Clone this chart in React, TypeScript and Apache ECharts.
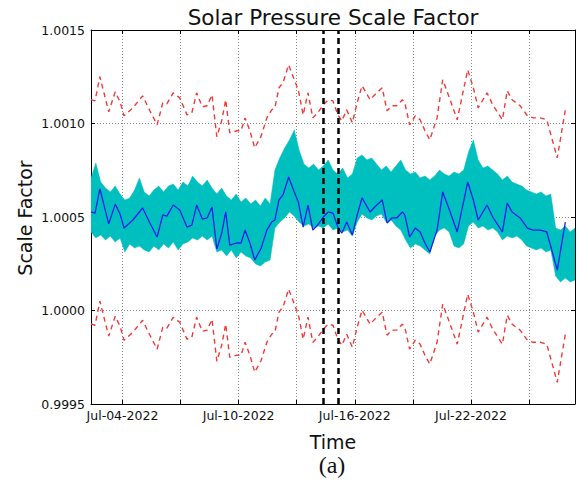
import React, { useEffect, useRef } from "react";
import * as echarts from "echarts";

// ---------- data ----------
const blueTimes = [
  "07-02 09:00","07-02 14:00","07-02 20:00","07-03 07:00","07-03 15:00","07-03 21:00","07-04 02:00","07-04 13:00",
  "07-05 01:00","07-05 10:00","07-05 19:00","07-06 02:00","07-06 07:00","07-06 15:00","07-06 23:00","07-07 08:00",
  "07-07 14:00","07-07 20:00","07-08 03:00","07-08 09:00","07-08 15:00","07-08 21:00","07-09 03:00","07-09 08:00",
  "07-09 13:00","07-09 22:00","07-10 03:00","07-10 08:00","07-10 14:00","07-10 20:00","07-11 04:00","07-11 11:00",
  "07-11 17:00","07-11 21:00","07-12 02:00","07-12 07:00","07-12 14:00","07-12 21:00","07-13 02:00","07-13 08:00",
  "07-13 14:00","07-13 20:00","07-14 02:00","07-14 09:00","07-14 15:00","07-14 21:00","07-15 03:00","07-15 08:00",
  "07-15 14:00","07-15 21:00","07-16 03:00","07-16 09:00","07-16 19:00","07-17 02:00","07-17 10:00","07-17 16:00",
  "07-17 22:00","07-18 04:00","07-18 11:00","07-18 14:00","07-18 20:00","07-19 03:00","07-19 09:00","07-19 15:00",
  "07-19 21:00","07-20 06:00","07-20 13:00","07-20 20:00","07-21 07:00","07-21 20:00","07-22 03:00","07-22 09:00",
  "07-22 20:00","07-23 03:00","07-23 15:00","07-23 21:00","07-24 03:00","07-24 13:00","07-24 22:00","07-25 05:00",
  "07-25 14:00","07-25 22:00","07-26 11:00","07-26 21:00",
];
const blueValues = [
  1.000528,1.000521,1.000650,1.000463,1.000569,1.000516,1.000441,1.000484,
  1.000548,1.000468,1.000393,1.000511,1.000505,1.000564,1.000537,1.000446,
  1.000457,1.000564,1.000489,1.000495,1.000553,1.000329,1.000414,1.000527,
  1.000350,1.000361,1.000361,1.000430,1.000361,1.000270,1.000334,1.000430,
  1.000473,1.000484,1.000591,1.000618,1.000714,1.000634,1.000580,1.000446,
  1.000564,1.000430,1.000457,1.000500,1.000527,1.000521,1.000446,1.000414,
  1.000473,1.000404,1.000511,1.000602,1.000527,1.000559,1.000591,1.000468,
  1.000495,1.000495,1.000527,1.000511,1.000393,1.000441,1.000420,1.000361,
  1.000313,1.000430,1.000634,1.000553,1.000420,1.000687,1.000591,1.000484,
  1.000564,1.000500,1.000420,1.000575,1.000527,1.000495,1.000441,1.000430,
  1.000430,1.000420,1.000216,1.000473,
];
const upperValues = [
  1.001128,1.001121,1.001250,1.001063,1.001169,1.001116,1.001041,1.001084,
  1.001148,1.001068,1.000993,1.001111,1.001105,1.001164,1.001137,1.001046,
  1.001057,1.001164,1.001089,1.001095,1.001153,1.000929,1.001014,1.001127,
  1.000950,1.000961,1.000961,1.001030,1.000961,1.000870,1.000934,1.001030,
  1.001073,1.001084,1.001191,1.001218,1.001314,1.001234,1.001180,1.001046,
  1.001164,1.001030,1.001057,1.001100,1.001127,1.001121,1.001046,1.001014,
  1.001073,1.001004,1.001111,1.001202,1.001127,1.001159,1.001191,1.001068,
  1.001095,1.001095,1.001127,1.001111,1.000993,1.001041,1.001020,1.000961,
  1.000913,1.001030,1.001234,1.001153,1.001020,1.001287,1.001191,1.001084,
  1.001164,1.001100,1.001020,1.001175,1.001127,1.001095,1.001041,1.001030,
  1.001030,1.001020,1.000816,1.001073,
];
const lowerValues = [
  0.999928,0.999921,1.000050,0.999863,0.999969,0.999916,0.999841,0.999884,
  0.999948,0.999868,0.999793,0.999911,0.999905,0.999964,0.999937,0.999846,
  0.999857,0.999964,0.999889,0.999895,0.999953,0.999729,0.999814,0.999927,
  0.999750,0.999761,0.999761,0.999830,0.999761,0.999670,0.999734,0.999830,
  0.999873,0.999884,0.999991,1.000018,1.000114,1.000034,0.999980,0.999846,
  0.999964,0.999830,0.999857,0.999900,0.999927,0.999921,0.999846,0.999814,
  0.999873,0.999804,0.999911,1.000002,0.999927,0.999959,0.999991,0.999868,
  0.999895,0.999895,0.999927,0.999911,0.999793,0.999841,0.999820,0.999761,
  0.999713,0.999830,1.000034,0.999953,0.999820,1.000087,0.999991,0.999884,
  0.999964,0.999900,0.999820,0.999975,0.999927,0.999895,0.999841,0.999830,
  0.999830,0.999820,0.999616,0.999873,
];
// cyan raw-estimate band, sampled every 6 h from Jul-02 09:00
const cyanStart = "07-02 09:00";
const cyanStepHours = 6;
const cyanHigh = [
  1.000709,1.000789,1.000687,1.000655,1.000634,1.000666,1.000623,1.000591,1.000602,1.000644,
  1.000709,1.000634,1.000612,1.000644,1.000666,1.000634,1.000666,1.000676,1.000644,1.000687,
  1.000666,1.000719,1.000687,1.000666,1.000698,1.000655,1.000623,1.000655,1.000612,1.000591,
  1.000623,1.000580,1.000602,1.000570,1.000591,1.000559,1.000602,1.000570,1.000751,1.000816,
  1.000869,1.000912,1.000965,1.000858,1.000783,1.000762,1.000783,1.000751,1.000773,1.000805,
  1.000751,1.000730,1.000762,1.000709,1.000730,1.000816,1.000832,1.000805,1.000816,1.000783,
  1.000751,1.000773,1.000741,1.000773,1.000805,1.000751,1.000730,1.000741,1.000709,1.000719,
  1.000698,1.000719,1.000751,1.000730,1.000719,1.000741,1.000730,1.000751,1.000848,1.000912,
  1.000805,1.000762,1.000773,1.000751,1.000730,1.000698,1.000719,1.000687,1.000676,1.000666,
  1.000644,1.000634,1.000623,1.000634,1.000612,1.000623,1.000441,1.000430,1.000452,1.000420,
  1.000441,
];
const cyanLow = [
  1.000420,1.000388,1.000404,1.000377,1.000398,1.000366,1.000388,1.000313,1.000356,1.000334,
  1.000345,1.000324,1.000313,1.000345,1.000324,1.000356,1.000334,1.000366,1.000324,1.000356,
  1.000366,1.000388,1.000377,1.000398,1.000377,1.000398,1.000313,1.000324,1.000291,1.000324,
  1.000281,1.000313,1.000291,1.000281,1.000249,1.000238,1.000259,1.000270,1.000441,1.000473,
  1.000495,1.000527,1.000505,1.000473,1.000452,1.000463,1.000441,1.000452,1.000441,1.000463,
  1.000430,1.000441,1.000420,1.000430,1.000398,1.000473,1.000516,1.000495,1.000484,1.000505,
  1.000516,1.000473,1.000484,1.000452,1.000430,1.000377,1.000334,1.000356,1.000345,1.000324,
  1.000302,1.000398,1.000430,1.000441,1.000420,1.000345,1.000334,1.000356,1.000452,1.000473,
  1.000441,1.000452,1.000430,1.000441,1.000420,1.000377,1.000398,1.000388,1.000398,1.000377,
  1.000345,1.000334,1.000324,1.000334,1.000313,1.000324,1.000184,1.000152,1.000174,1.000152,
  1.000163,
];
const markerTimes = ["07-14 08:30", "07-15 03:00"];
const gridDates = ["07-04 00:00","07-07 00:00","07-10 00:00","07-13 00:00","07-16 00:00","07-19 00:00","07-22 00:00","07-25 00:00"];
const labelDates = ["07-04 00:00","07-10 00:00","07-16 00:00","07-22 00:00"];
const xMin = "07-02 09:00";
const xMax = "07-27 09:00";
const yTicks = { min: 0.9995, max: 1.0015, interval: 0.0005 };
const monthNames = ["Jan","Feb","Mar","Apr","May","Jun","Jul","Aug","Sep","Oct","Nov","Dec"];

function t(s: string): number {
  const [md, hm] = s.split(" ");
  const [m, d] = md.split("-").map(Number);
  const [hh, mm] = hm.split(":").map(Number);
  return Date.UTC(2022, m - 1, d, hh, mm);
}

const FONT = "DejaVu Sans";

export default function App() {
  const ref = useRef<HTMLDivElement>(null);
  useEffect(() => {
    if (!ref.current) return;
    const chart = echarts.init(ref.current, null, { renderer: "svg" });
    const c0 = t(cyanStart);
    const cyanT = cyanHigh.map((_, i) => c0 + i * cyanStepHours * 3600e3);
    const blueData = blueTimes.map((s, i) => [t(s), blueValues[i]]);
    const upperData = blueTimes.map((s, i) => [t(s), upperValues[i]]);
    const lowerData = blueTimes.map((s, i) => [t(s), lowerValues[i]]);
    const bandData = cyanT.map((x, i) => [x, cyanLow[i], cyanHigh[i]]);
    const gridVals = gridDates.map(t);
    const labelVals = labelDates.map(t);
    const fmt = (v: number) => {
      const d = new Date(v);
      const dd = String(d.getUTCDate()).padStart(2, "0");
      return `${monthNames[d.getUTCMonth()]}-${dd}-${d.getUTCFullYear()}`;
    };
    const xCommon = {
      type: "value" as const,
      min: t(xMin),
      max: t(xMax),
      scale: true,
      axisLine: { show: true, onZero: false, lineStyle: { color: "#000", width: 1 } },
    };
    const yCommon = {
      type: "value" as const,
      min: yTicks.min,
      max: yTicks.max,
      interval: yTicks.interval,
      axisLine: { show: true, onZero: false, lineStyle: { color: "#000", width: 1 } },
    };
    chart.setOption({
      animation: false,
      grid: { left: 91, right: 2, top: 30, bottom: 77, containLabel: false, outerBoundsMode: "none" },
      xAxis: [
        {
          ...xCommon,
          position: "bottom",
          axisTick: { show: true, inside: true, length: 4, customValues: gridVals, lineStyle: { color: "#000" } },
          axisLabel: {
            show: true, customValues: labelVals, formatter: fmt, margin: 5,
            color: "#111", fontFamily: FONT, fontSize: 12.5, hideOverlap: false,
          },
          splitLine: { show: true, lineStyle: { color: "#8a8a8a", type: [1, 2], width: 1 } },
        },
        {
          ...xCommon,
          position: "top",
          axisTick: { show: true, inside: true, length: 4, customValues: gridVals, lineStyle: { color: "#000" } },
          axisLabel: { show: false },
          splitLine: { show: false },
        },
      ],
      yAxis: [
        {
          ...yCommon,
          position: "left",
          axisTick: { show: true, inside: true, length: 4, lineStyle: { color: "#000" } },
          axisLabel: {
            show: true, margin: 6, color: "#111", fontFamily: FONT, fontSize: 12.5,
            formatter: (v: number) => v.toFixed(4),
          },
          splitLine: { show: true, lineStyle: { color: "#8a8a8a", type: [1, 2], width: 1 } },
        },
        {
          ...yCommon,
          position: "right",
          axisTick: { show: true, inside: true, length: 4, lineStyle: { color: "#000" } },
          axisLabel: { show: false },
          splitLine: { show: false },
        },
      ],
      series: [
        {
          type: "custom",
          data: bandData,
          encode: { x: 0, y: [1, 2] },
          silent: true,
          z: 2,
          clip: true,
          renderItem: (params: any, api: any) => {
            if (params.dataIndex !== 0) return null;
            const top = bandData.map((d) => api.coord([d[0], d[2]]));
            const bot = bandData.map((d) => api.coord([d[0], d[1]])).reverse();
            return {
              type: "polygon",
              shape: { points: top.concat(bot) },
              style: { fill: "#00bfbf", stroke: "#00bfbf", lineWidth: 0.5 },
            };
          },
        },
        {
          type: "line", data: blueData, symbol: "none",
          lineStyle: { color: "#1f1fee", width: 1.3 }, z: 3,
          markLine: {
            silent: true, symbol: "none", label: { show: false },
            lineStyle: { color: "#000", type: [6, 4], width: 2.5 },
            data: markerTimes.map((s) => ({ xAxis: t(s) })),
          },
        },
        {
          type: "line", data: upperData, symbol: "none",
          lineStyle: { color: "#f23a3a", width: 1.4, type: [5, 4] }, z: 3,
        },
        {
          type: "line", data: lowerData, symbol: "none",
          lineStyle: { color: "#f23a3a", width: 1.4, type: [5, 4] }, z: 3,
        },
      ],
      graphic: [
        {
          type: "text", x: 333, y: 17,
          style: { text: "Solar Pressure Scale Factor", fontFamily: FONT, fontSize: 21.5, fill: "#111", align: "center", verticalAlign: "middle" },
        },
        {
          type: "text", x: 25, y: 218, rotation: Math.PI / 2,
          style: { text: "Scale Factor", fontFamily: FONT, fontSize: 19, fill: "#111", align: "center", verticalAlign: "middle" },
        },
        {
          type: "text", x: 333, y: 442,
          style: { text: "Time", fontFamily: FONT, fontSize: 19, fill: "#111", align: "center", verticalAlign: "middle" },
        },
        {
          type: "text", x: 332, y: 465,
          style: { text: "(a)", fontFamily: "Liberation Serif", fontSize: 24, fill: "#111", align: "center", verticalAlign: "middle" },
        },
      ],
    });
    return () => chart.dispose();
  }, []);
  return <div ref={ref} style={{ position: "fixed", left: 0, top: 0, width: 577, height: 481, background: "#fff" }} />;
}
